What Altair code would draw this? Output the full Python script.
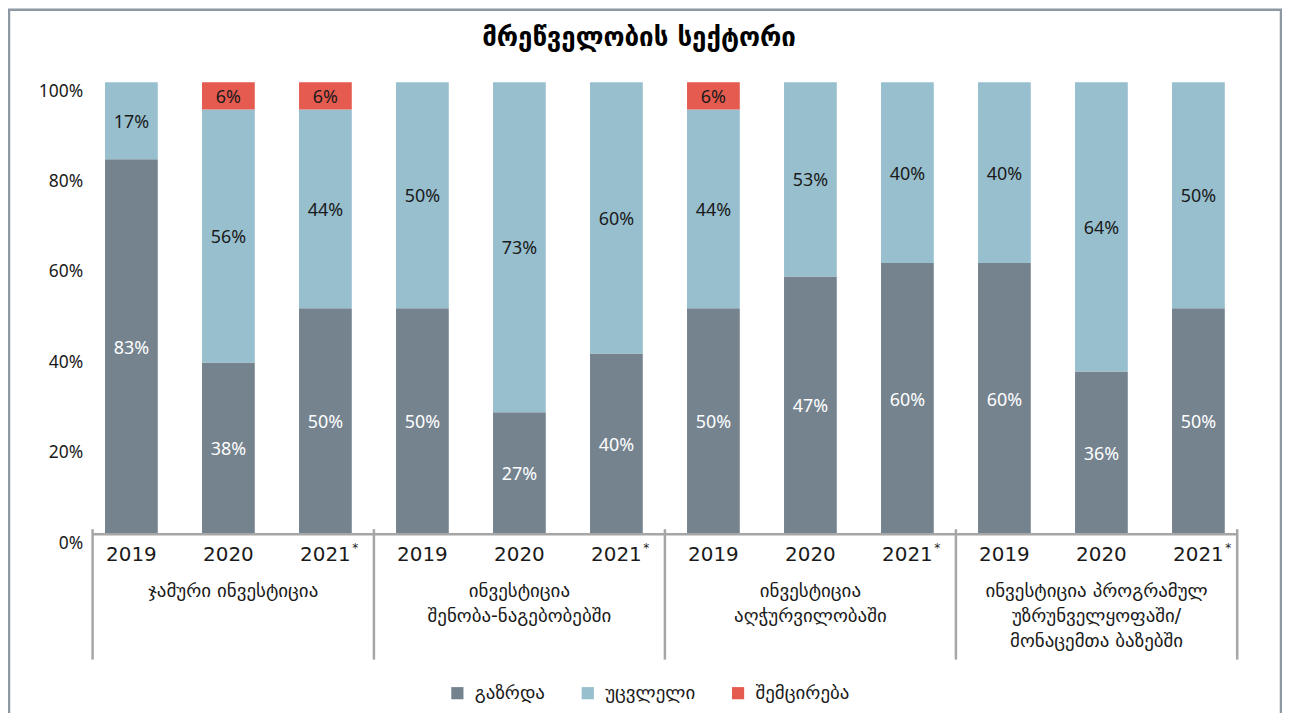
import altair as alt
import pandas as pd

# ---------------- data ----------------
title_text = "მრეწველობის სექტორი"
groups = [
    "ჯამური ინვესტიცია",
    "ინვესტიცია\nშენობა-ნაგებობებში",
    "ინვესტიცია\nაღჭურვილობაში",
    "ინვესტიცია პროგრამულ\nუზრუნველყოფაში/\nმონაცემთა ბაზებში",
]
years = ["2019", "2020", "2021", "2019", "2020", "2021",
         "2019", "2020", "2021", "2019", "2020", "2021"]
year_star = [False, False, True] * 4
categories = ["გაზრდა", "უცვლელი", "შემცირება"]
colors = ["#75838F", "#97BFCE", "#E55B50"]

# segment heights as drawn (percent)
increase = [83, 38, 50, 50, 27, 40, 50, 57, 60, 60, 36, 50]
unchanged = [17, 56, 44, 50, 73, 60, 44, 43, 40, 40, 64, 50]
decrease = [0, 6, 6, 0, 0, 0, 6, 0, 0, 0, 0, 0]
# printed labels
increase_lbl = ["83%", "38%", "50%", "50%", "27%", "40%", "50%", "47%", "60%", "60%", "36%", "50%"]
unchanged_lbl = ["17%", "56%", "44%", "50%", "73%", "60%", "44%", "53%", "40%", "40%", "64%", "50%"]
decrease_lbl = ["", "6%", "6%", "", "", "", "6%", "", "", "", "", ""]

# group boundaries on the bar-index axis
group_edges = [-0.4, 2.5, 5.5, 8.5, 11.4]
y_ticks = [0, 20, 40, 60, 80, 100]

# ---------------- tables ----------------
rows = []
for i in range(12):
    base = 0
    for cat, vals, lbls in zip(categories,
                               [increase, unchanged, decrease],
                               [increase_lbl, unchanged_lbl, decrease_lbl]):
        v = vals[i]
        rows.append(dict(idx=i, cat=cat, y0=base, y1=base + v,
                         mid=base + v / 2, label=lbls[i], v=v))
        base += v
bars = pd.DataFrame(rows)
bars_nz = bars[bars.v > 0]

yr = pd.DataFrame(dict(idx=list(range(12)), year=years, star=year_star))
grp = pd.DataFrame(dict(
    mid=[(group_edges[k] + group_edges[k + 1]) / 2 for k in range(4)],
    name=groups))
edges = pd.DataFrame(dict(e=group_edges))
axis_line = pd.DataFrame(dict(a=[group_edges[0]], b=[group_edges[-1]], z=[0]))

W, H = 1150, 454
xscale = alt.Scale(domain=[group_edges[0], group_edges[-1]], nice=False, zero=False, padding=0)
yscale = alt.Scale(domain=[0, 100], nice=False, padding=0)

GEO = "DejaVu Sans"
NUM = "Noto Sans"

bar = alt.Chart(bars_nz).mark_bar(size=53).encode(
    x=alt.X("idx:Q", scale=xscale, axis=None),
    y=alt.Y("y0:Q", scale=yscale,
            axis=alt.Axis(values=y_ticks, labelExpr="datum.value + '%'",
                          title=None, domain=False, ticks=False, grid=False,
                          labelFont=NUM, labelFontSize=17.5, labelColor="#1a1a1a",
                          labelPadding=10, labelOffset=9)),
    y2="y1:Q",
    color=alt.Color("cat:N", sort=categories,
                    scale=alt.Scale(domain=categories, range=colors),
                    legend=alt.Legend(title=None, orient="none", direction="horizontal",
                                      legendX=357, legendY=604,
                                      symbolType="square", symbolSize=150,
                                      symbolStrokeWidth=0, labelFont=GEO,
                                      labelFontSize=19, labelColor="#1a1a1a",
                                      columnPadding=33, labelOffset=8, padding=0)),
)

lbl = alt.Chart(bars_nz).mark_text(font=NUM, fontSize=18, baseline="middle", dy=2).encode(
    x=alt.X("idx:Q", scale=xscale),
    y=alt.Y("mid:Q", scale=yscale),
    text="label:N",
    color=alt.condition(alt.datum.cat == categories[0], alt.value("#ffffff"), alt.value("#1a1a1a")),
)

axl = alt.Chart(axis_line).mark_rule(color="#A6A6A6", strokeWidth=2.5).encode(
    x=alt.X("a:Q", scale=xscale), x2="b:Q", y=alt.Y("z:Q", scale=yscale))

seps = alt.Chart(edges).mark_rule(color="#A6A6A6", strokeWidth=2.5).encode(
    x=alt.X("e:Q", scale=xscale), y=alt.value(449), y2=alt.value(580))

yrs = alt.Chart(yr).mark_text(font=GEO, fontSize=20, baseline="middle", color="#1a1a1a").encode(
    x=alt.X("idx:Q", scale=xscale), y=alt.value(475), text="year:N")

stars = alt.Chart(yr[yr.star]).mark_text(font=GEO, fontSize=12, baseline="middle",
                                         color="#1a1a1a", dx=30, dy=-7).encode(
    x=alt.X("idx:Q", scale=xscale), y=alt.value(475), text=alt.value("*"))

grps = alt.Chart(grp).mark_text(font=GEO, fontSize=19, baseline="top", lineBreak="\n",
                                lineHeight=25, color="#1a1a1a").encode(
    x=alt.X("mid:Q", scale=xscale), y=alt.value(502), text="name:N")

ttl = alt.Chart(pd.DataFrame(dict(t=[title_text]))).mark_text(
    font=GEO, fontSize=26, fontWeight="bold", baseline="middle", color="#000000").encode(
    x=alt.value(549), y=alt.value(-44), text="t:N")

frame = alt.Chart(pd.DataFrame(dict(t=[0]))).mark_rect(
    fill=None, stroke="#8C98A4", strokeWidth=2.5).encode(
    x=alt.value(-84), x2=alt.value(1194), y=alt.value(-73), y2=alt.value(700))

chart = alt.layer(frame, bar, lbl, axl, seps, yrs, stars, grps, ttl).properties(
    width=W, height=H,
    autosize=alt.AutoSizeParams(type="none"),
    padding={"left": 85, "top": 73, "right": 45, "bottom": 178},
).configure(background="white").configure_view(stroke=None, strokeWidth=0)

chart.save("out.html", embed_options={"renderer": "svg", "actions": False})
